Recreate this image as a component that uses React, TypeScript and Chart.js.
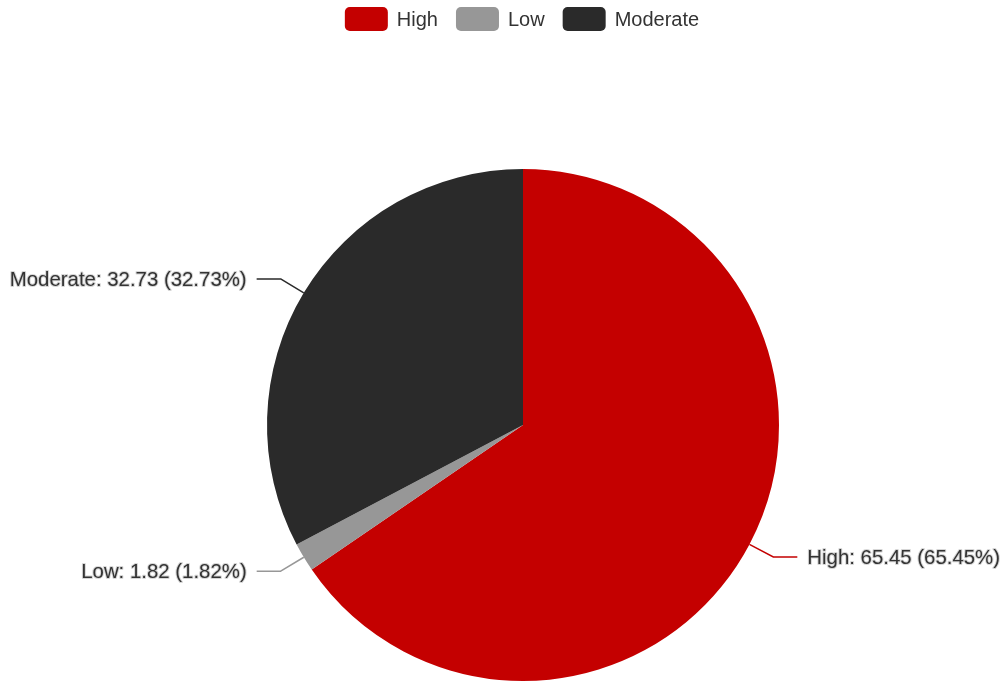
import React, { useEffect, useRef } from "react";
import { Chart, registerables } from "chart.js";

Chart.register(...registerables);

const categories = ["High", "Low", "Moderate"];
const values = [65.45, 1.82, 32.73];
const colors = ["#c40000", "#979797", "#2a2a2a"];

const FONT = "20px 'Liberation Sans', Arial, sans-serif";
const LABEL_FONT = "20.4px 'Liberation Sans', Arial, sans-serif";
const TEXT_COLOR = "#333333";

const customLegend = {
  id: "customLegend",
  afterDraw(chart: any) {
    const ctx = chart.ctx as CanvasRenderingContext2D;
    ctx.save();
    ctx.font = FONT;
    const boxW = 43, boxH = 24, gapText = 9, gapItem = 18;
    const widths = categories.map((c) => ctx.measureText(c).width);
    const total = widths.reduce((a, w) => a + boxW + gapText + w, 0) + gapItem * (categories.length - 1);
    let x = 522 - total / 2;
    const cy = 19;
    categories.forEach((c, i) => {
      ctx.fillStyle = colors[i];
      ctx.beginPath();
      (ctx as any).roundRect(x, cy - boxH / 2, boxW, boxH, 5);
      ctx.fill();
      ctx.fillStyle = TEXT_COLOR;
      ctx.textAlign = "left";
      ctx.textBaseline = "middle";
      ctx.fillText(c, x + boxW + gapText, cy + 1);
      x += boxW + gapText + widths[i] + gapItem;
    });
    ctx.restore();
  },
};

const outsideLabels = {
  id: "outsideLabels",
  afterDatasetsDraw(chart: any) {
    const ctx = chart.ctx as CanvasRenderingContext2D;
    const meta = chart.getDatasetMeta(0);
    const data = chart.data.datasets[0].data as number[];
    const total = data.reduce((a, b) => a + b, 0);
    ctx.save();
    meta.data.forEach((arc: any, i: number) => {
      const p = arc.getProps(["x", "y", "startAngle", "endAngle", "outerRadius"], true);
      const mid = (p.startAngle + p.endAngle) / 2;
      const cos = Math.cos(mid), sin = Math.sin(mid);
      const r = p.outerRadius;
      const x0 = p.x + cos * r, y0 = p.y + sin * r;
      const x1 = p.x + cos * (r + 27), y1 = p.y + sin * (r + 27);
      const dir = cos >= 0 ? 1 : -1;
      const x2 = x1 + dir * 24;
      ctx.strokeStyle = colors[i];
      ctx.lineWidth = 1.5;
      ctx.beginPath();
      ctx.moveTo(x0, y0);
      ctx.lineTo(x1, y1);
      ctx.lineTo(x2, y1);
      ctx.stroke();
      const pct = ((data[i] / total) * 100).toFixed(2);
      const label = `${categories[i]}: ${data[i].toFixed(2)} (${pct}%)`;
      ctx.font = LABEL_FONT;
      ctx.textAlign = dir > 0 ? "left" : "right";
      ctx.textBaseline = "middle";
      const tx = x2 + dir * 10;
      ctx.lineJoin = "round";
      ctx.strokeStyle = "#d6d6d6";
      ctx.lineWidth = 2;
      ctx.strokeText(label, tx, y1 + 1);
      ctx.fillStyle = TEXT_COLOR;
      ctx.fillText(label, tx, y1 + 1);
    });
    ctx.restore();
  },
};

export default function App() {
  const ref = useRef<HTMLCanvasElement>(null);
  useEffect(() => {
    if (!ref.current) return;
    const chart = new Chart(ref.current, {
      type: "pie",
      data: {
        labels: categories,
        datasets: [
          {
            data: values,
            backgroundColor: colors,
            borderWidth: 0,
          },
        ],
      },
      options: {
        responsive: false,
        animation: false,
        devicePixelRatio: 1,
        layout: { padding: { top: 169, bottom: 2, left: 267, right: 226 } },
        plugins: {
          legend: { display: false },
          tooltip: { enabled: false },
        },
      },
      plugins: [customLegend, outsideLabels],
    });
    return () => chart.destroy();
  }, []);
  return (
    <div style={{ position: "absolute", left: 0, top: 0, width: 1005, height: 683, background: "#fff" }}>
      <canvas ref={ref} width={1005} height={683} />
    </div>
  );
}
